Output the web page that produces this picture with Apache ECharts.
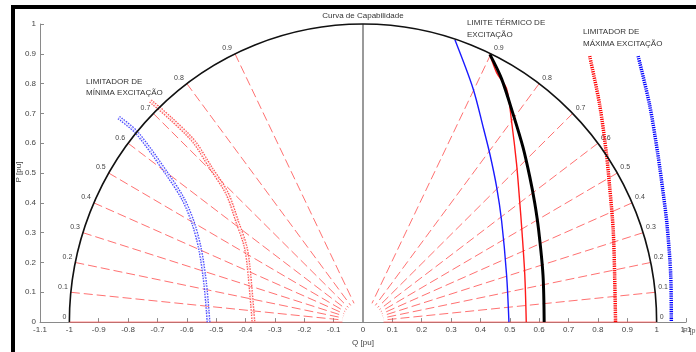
<!DOCTYPE html>
<html>
<head>
<meta charset="utf-8">
<script src="https://cdn.jsdelivr.net/npm/echarts/dist/echarts.min.js"></script>
<style>
  html, body { margin: 0; padding: 0; background: #fff; }
  #chart { width: 696px; height: 352px; }
</style>
</head>
<body>
<div id="chart"></div>
<script>
// Curva de capabilidade (Q, P em pu)

// níveis de P marcados no círculo unitário (rótulos 0 ... 0.9)
const pfLevels = [0, 0.1, 0.2, 0.3, 0.4, 0.5, 0.6, 0.7, 0.8, 0.9];

// limite térmico de excitação (lado direito)
const termicoPreto = [[0.432,0.898],[0.472,0.816],[0.512,0.695],[0.545,0.586],[0.568,0.487],[0.585,0.399],[0.598,0.31],[0.613,0.158],[0.617,0]];
const termicoVermelho = [[0.432,0.898],[0.455,0.837],[0.489,0.783],[0.506,0.673],[0.523,0.531],[0.534,0.40],[0.541,0.31],[0.551,0.158],[0.556,0]];
const termicoAzul = [[0.313,0.947],[0.375,0.783],[0.41,0.651],[0.432,0.564],[0.455,0.454],[0.472,0.34],[0.489,0.158],[0.497,0]];

// limitador de máxima excitação
const maxVermelho = [[0.772,0.892],[0.806,0.729],[0.829,0.564],[0.84,0.454],[0.852,0.31],[0.857,0.158],[0.86,0]];
const maxAzul = [[0.937,0.892],[0.976,0.729],[1.004,0.564],[1.02,0.45],[1.035,0.33],[1.048,0.158],[1.05,0]];

// limitador de mínima excitação
const minAzul = [[-0.832,0.686],[-0.77,0.635],[-0.668,0.498],[-0.611,0.41],[-0.577,0.328],[-0.554,0.24],[-0.537,0.125],[-0.526,0]];
const minVermelho = [[-0.724,0.742],[-0.656,0.684],[-0.577,0.607],[-0.52,0.52],[-0.463,0.432],[-0.427,0.333],[-0.401,0.257],[-0.39,0.19],[-0.373,0]];

const raioInterno = 0.07;
const fmt = v => String(parseFloat(Number(v).toFixed(1)));

const chart = echarts.init(document.getElementById('chart'));

function lineSerie(data, color, width, dash, z) {
    return {
        type: 'line', data: data, smooth: 0.3, showSymbol: false, symbol: 'none', z: z || 3,
        lineStyle: { color: color, width: width, type: dash || 'solid', cap: 'butt' },
        silent: true, animation: false
    };
}

// círculo unitário (semicircunferência superior)
const circulo = {
    type: 'custom', data: [[0, 0]], z: 4, silent: true, animation: false,
    renderItem: (params, api) => {
        const c = api.coord([0, 0]);
        const s = api.size([1, 1]);
        return {
            type: 'arc', x: c[0], y: c[1], scaleY: s[1] / s[0],
            shape: { cx: 0, cy: 0, r: s[0], startAngle: Math.PI, endAngle: 2 * Math.PI },
            style: { stroke: '#111', fill: null, lineWidth: 1.6 }
        };
    }
};

// linhas radiais tracejadas + rótulos
const radiais = {
    type: 'custom', data: pfLevels, z: 2, silent: true, animation: false,
    renderItem: (params, api) => {
        const p = api.value(0);
        const q = Math.sqrt(1 - p * p);
        const children = [];
        [-1, 1].forEach(lado => {
            const a = api.coord([lado * q, p]);
            const b = api.coord([lado * q * raioInterno, p * raioInterno]);
            children.push({
                type: 'line',
                shape: { x1: a[0], y1: a[1], x2: b[0], y2: b[1] },
                style: { stroke: '#ff4d4d', opacity: 0.8, lineWidth: 1, lineDash: p === 0 ? null : [9, 4] }
            });
            children.push({
                type: 'text',
                x: lado < 0 ? a[0] - 3 : a[0] + 3,
                y: a[1] - 2,
                style: {
                    text: fmt(p), fontSize: 7, fill: '#444', fontFamily: 'Liberation Sans',
                    align: lado < 0 ? 'right' : 'left', verticalAlign: 'bottom'
                }
            });
        });
        return { type: 'group', children: children };
    }
};

const eixo = {
    axisLine: { show: true, onZero: false, lineStyle: { color: '#8a8a8a', width: 1 } },
    axisTick: { show: true, inside: true, length: 4, lineStyle: { color: '#8a8a8a' } },
    splitLine: { show: false },
    axisLabel: { fontSize: 8, color: '#444', fontFamily: 'Liberation Sans', formatter: fmt, margin: 4 },
    nameLocation: 'middle',
    nameTextStyle: { fontSize: 8, color: '#444', fontFamily: 'Liberation Sans' }
};

const option = {
    animation: false,
    backgroundColor: '#fff',
    grid: { left: 40, right: 10, top: 24, bottom: 24, containLabel: false },
    xAxis: Object.assign({}, eixo, {
        type: 'value', min: -1.1, max: 1.1, interval: 0.1,
        name: 'Q [pu]', nameGap: 16
    }),
    yAxis: Object.assign({}, eixo, {
        type: 'value', min: 0, max: 1, interval: 0.1
    }),
    series: [
        radiais,
        lineSerie([[0, 0], [0, 1]], '#9a9a9a', 2, 'solid', 1),
        circulo,
        lineSerie(termicoAzul, '#1a1aff', 1.4),
        lineSerie(termicoVermelho, '#ff1a1a', 1.4),
        lineSerie(termicoPreto, '#000', 3),
        lineSerie(maxVermelho, '#ff0000', 3.5, [1.2, 1]),
        lineSerie(maxAzul, '#0000ff', 3.5, [1.2, 1]),
        lineSerie(minAzul, '#4d4dff', 4, [1.5, 1.2], 3),
        lineSerie(minAzul, '#ffffff', 1.4, [1.5, 1.2], 3),
        lineSerie(minVermelho, '#ff5a5a', 4, [1.5, 1.2], 3),
        lineSerie(minVermelho, '#ffffff', 1.4, [1.5, 1.2], 3)
    ],
    graphic: [
        // moldura preta
        { type: 'rect', left: 11, top: 5, shape: { width: 4, height: 347 }, style: { fill: '#000' } },
        { type: 'rect', left: 11, top: 5, shape: { width: 685, height: 4 }, style: { fill: '#000' } },
        { type: 'text', x: 363, y: 16, style: { text: 'Curva de Capabilidade', fontSize: 8, fill: '#333', fontFamily: 'Liberation Sans', align: 'center', verticalAlign: 'middle' } },
        { type: 'text', x: 19, y: 172, rotation: Math.PI / 2, style: { text: 'P [pu]', fontSize: 8, fill: '#444', fontFamily: 'Liberation Sans', align: 'center', verticalAlign: 'middle' } },
        { type: 'text', x: 86, y: 76, style: { text: 'LIMITADOR DE\nMÍNIMA EXCITAÇÃO', fontSize: 8, lineHeight: 11, fill: '#333', fontFamily: 'Liberation Sans' } },
        { type: 'text', x: 467, y: 17, style: { text: 'LIMITE TÉRMICO DE\nEXCITAÇÃO', fontSize: 8, lineHeight: 12, fill: '#333', fontFamily: 'Liberation Sans' } },
        { type: 'text', x: 583, y: 26, style: { text: 'LIMITADOR DE\nMÁXIMA EXCITAÇÃO', fontSize: 8, lineHeight: 12, fill: '#333', fontFamily: 'Liberation Sans' } },
        { type: 'text', x: 683, y: 331, style: { text: 'P [pu]', fontSize: 7, fill: '#555', fontFamily: 'Liberation Sans', verticalAlign: 'middle' } }
    ]
};

chart.setOption(option);
</script>
</body>
</html>
